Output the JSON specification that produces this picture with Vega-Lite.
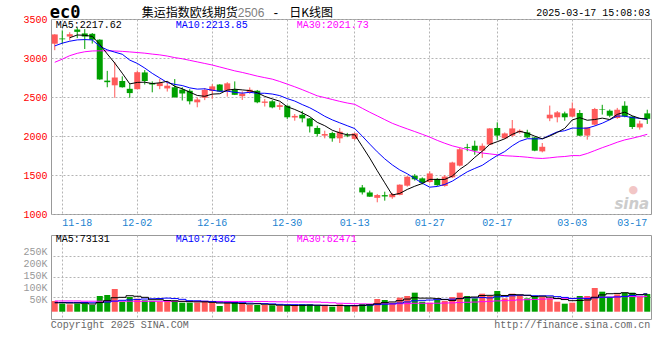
{
  "$schema": "https://vega.github.io/schema/vega-lite/v6.json",
  "background": "#ffffff",
  "padding": {"left": 22, "top": 3, "right": 9, "bottom": 0},
  "config": {
    "view": {"stroke": "#999999", "strokeWidth": 1},
    "axis": {"labelFont": "Liberation Mono", "labelFontSize": 10, "ticks": false, "domain": false, "gridColor": "#b4b4b4", "gridDash": [2, 2], "gridWidth": 1},
    "text": {"font": "Liberation Mono", "fontSize": 10}
  },
  "spacing": 21,
  "bounds": "flush",
  "data": {"values": [
    {"d":"11-15","o":3183,"h":3305,"l":3100,"c":3302,"v":44400,"m5":null,"m10":3155,"m30":2945,"vm5":37000,"vm10":38000,"vm30":44500},
    {"d":"11-18","o":3250,"h":3354,"l":3183,"c":3240,"v":33300,"m5":null,"m10":3190,"m30":2985,"vm5":37000,"vm10":38000,"vm30":44500},
    {"d":"11-19","o":3275,"h":3330,"l":3225,"c":3305,"v":30600,"m5":3260,"m10":3215,"m30":3030,"vm5":36000,"vm10":38000,"vm30":44500},
    {"d":"11-20","o":3365,"h":3390,"l":3255,"c":3335,"v":33300,"m5":3295,"m10":3232,"m30":3060,"vm5":36000,"vm10":38000,"vm30":44500},
    {"d":"11-21","o":3315,"h":3370,"l":3115,"c":3275,"v":33300,"m5":3291,"m10":3236,"m30":3080,"vm5":35000,"vm10":38000,"vm30":43500},
    {"d":"11-22","o":3310,"h":3320,"l":3185,"c":3235,"v":27800,"m5":3278,"m10":3232,"m30":3090,"vm5":31700,"vm10":37000,"vm30":43500},
    {"d":"11-25","o":3235,"h":3240,"l":2720,"c":2725,"v":65200,"m5":3175,"m10":3150,"m30":3092,"vm5":38000,"vm10":38000,"vm30":43500},
    {"d":"11-26","o":2710,"h":2835,"l":2625,"c":2690,"v":69300,"m5":3052,"m10":3105,"m30":3092,"vm5":45800,"vm10":40000,"vm30":43500},
    {"d":"11-27","o":2650,"h":2950,"l":2490,"c":2750,"v":94200,"m5":2935,"m10":3075,"m30":3090,"vm5":58000,"vm10":44000,"vm30":43500},
    {"d":"11-28","o":2705,"h":2765,"l":2620,"c":2625,"v":41500,"m5":2805,"m10":3048,"m30":3085,"vm5":59600,"vm10":47300,"vm30":43500},
    {"d":"11-29","o":2605,"h":2665,"l":2490,"c":2550,"v":61000,"m5":2668,"m10":2973,"m30":3078,"vm5":66200,"vm10":49000,"vm30":43500},
    {"d":"12-02","o":2600,"h":2840,"l":2598,"c":2818,"v":54000,"m5":2687,"m10":2931,"m30":3070,"vm5":64000,"vm10":51000,"vm30":43000},
    {"d":"12-03","o":2815,"h":2845,"l":2660,"c":2705,"v":47200,"m5":2690,"m10":2871,"m30":3062,"vm5":59600,"vm10":52700,"vm30":43000},
    {"d":"12-04","o":2680,"h":2700,"l":2560,"c":2660,"v":44400,"m5":2672,"m10":2803,"m30":3050,"vm5":49600,"vm10":53800,"vm30":43000},
    {"d":"12-05","o":2640,"h":2730,"l":2600,"c":2678,"v":41500,"m5":2682,"m10":2744,"m30":3040,"vm5":49600,"vm10":54600,"vm30":43000},
    {"d":"12-06","o":2610,"h":2690,"l":2570,"c":2645,"v":44400,"m5":2701,"m10":2685,"m30":3025,"vm5":46300,"vm10":56300,"vm30":43000},
    {"d":"12-09","o":2625,"h":2730,"l":2495,"c":2495,"v":47200,"m5":2637,"m10":2662,"m30":3005,"vm5":44900,"vm10":54500,"vm30":43000},
    {"d":"12-10","o":2595,"h":2625,"l":2455,"c":2545,"v":37400,"m5":2605,"m10":2647,"m30":2990,"vm5":43000,"vm10":51300,"vm30":43000},
    {"d":"12-11","o":2580,"h":2600,"l":2405,"c":2445,"v":37400,"m5":2562,"m10":2617,"m30":2970,"vm5":41600,"vm10":45600,"vm30":43000},
    {"d":"12-12","o":2432,"h":2495,"l":2368,"c":2468,"v":37400,"m5":2520,"m10":2601,"m30":2950,"vm5":40800,"vm10":45200,"vm30":43000},
    {"d":"12-13","o":2490,"h":2615,"l":2460,"c":2590,"v":44400,"m5":2509,"m10":2605,"m30":2930,"vm5":40800,"vm10":43500,"vm30":43000},
    {"d":"12-16","o":2578,"h":2665,"l":2475,"c":2636,"v":37400,"m5":2537,"m10":2587,"m30":2910,"vm5":38800,"vm10":41900,"vm30":42500},
    {"d":"12-17","o":2660,"h":2665,"l":2565,"c":2570,"v":23700,"m5":2542,"m10":2573,"m30":2885,"vm5":36100,"vm10":39500,"vm30":42500},
    {"d":"12-18","o":2582,"h":2690,"l":2505,"c":2675,"v":36100,"m5":2588,"m10":2575,"m30":2860,"vm5":35800,"vm10":38700,"vm30":42500},
    {"d":"12-19","o":2598,"h":2700,"l":2525,"c":2528,"v":36100,"m5":2600,"m10":2560,"m30":2835,"vm5":35500,"vm10":38200,"vm30":42500},
    {"d":"12-20","o":2510,"h":2572,"l":2462,"c":2545,"v":36100,"m5":2591,"m10":2550,"m30":2815,"vm5":33900,"vm10":37300,"vm30":42500},
    {"d":"12-23","o":2560,"h":2623,"l":2540,"c":2593,"v":27800,"m5":2582,"m10":2560,"m30":2792,"vm5":32000,"vm10":35400,"vm30":42500},
    {"d":"12-24","o":2580,"h":2590,"l":2420,"c":2432,"v":27800,"m5":2555,"m10":2548,"m30":2768,"vm5":32800,"vm10":34400,"vm30":42500},
    {"d":"12-25","o":2425,"h":2475,"l":2378,"c":2442,"v":27800,"m5":2508,"m10":2548,"m30":2748,"vm5":31100,"vm10":33500,"vm30":42500},
    {"d":"12-26","o":2445,"h":2460,"l":2355,"c":2367,"v":26500,"m5":2476,"m10":2538,"m30":2729,"vm5":29200,"vm10":32400,"vm30":41600},
    {"d":"12-27","o":2373,"h":2430,"l":2335,"c":2395,"v":25000,"m5":2446,"m10":2518,"m30":2699,"vm5":27000,"vm10":30400,"vm30":41000},
    {"d":"12-30","o":2388,"h":2390,"l":2218,"c":2240,"v":25000,"m5":2375,"m10":2479,"m30":2665,"vm5":26400,"vm10":29200,"vm30":40700},
    {"d":"12-31","o":2237,"h":2282,"l":2196,"c":2258,"v":23700,"m5":2340,"m10":2448,"m30":2631,"vm5":25600,"vm10":29200,"vm30":40500},
    {"d":"01-02","o":2272,"h":2322,"l":2175,"c":2226,"v":30600,"m5":2297,"m10":2403,"m30":2594,"vm5":26200,"vm10":28600,"vm30":40400},
    {"d":"01-03","o":2225,"h":2230,"l":2045,"c":2123,"v":30600,"m5":2248,"m10":2362,"m30":2555,"vm5":27000,"vm10":28100,"vm30":40300},
    {"d":"01-06","o":2103,"h":2132,"l":1995,"c":2026,"v":23700,"m5":2175,"m10":2310,"m30":2515,"vm5":26700,"vm10":26900,"vm30":40100},
    {"d":"01-07","o":2005,"h":2068,"l":1970,"c":2025,"v":23700,"m5":2132,"m10":2253,"m30":2492,"vm5":26500,"vm10":26400,"vm30":38800},
    {"d":"01-08","o":2038,"h":2055,"l":1927,"c":1970,"v":20900,"m5":2074,"m10":2207,"m30":2468,"vm5":25900,"vm10":25800,"vm30":37200},
    {"d":"01-09","o":1970,"h":2103,"l":1910,"c":2055,"v":30600,"m5":2040,"m10":2169,"m30":2444,"vm5":25900,"vm10":26000,"vm30":35000},
    {"d":"01-10","o":2008,"h":2040,"l":1985,"c":1998,"v":23700,"m5":2015,"m10":2132,"m30":2423,"vm5":24500,"vm10":25800,"vm30":34400},
    {"d":"01-13","o":1963,"h":2040,"l":1950,"c":2033,"v":23700,"m5":2016,"m10":2095,"m30":2406,"vm5":24500,"vm10":25600,"vm30":33200},
    {"d":"01-14","o":1340,"h":1372,"l":1250,"c":1277,"v":32000,"m5":1867,"m10":1999,"m30":2355,"vm5":26200,"vm10":26300,"vm30":32500},
    {"d":"01-15","o":1276,"h":1300,"l":1220,"c":1222,"v":32000,"m5":1717,"m10":1896,"m30":2305,"vm5":28400,"vm10":27200,"vm30":32000},
    {"d":"01-16","o":1207,"h":1257,"l":1150,"c":1243,"v":52700,"m5":1555,"m10":1797,"m30":2258,"vm5":32800,"vm10":29400,"vm30":32200},
    {"d":"01-17","o":1242,"h":1286,"l":1171,"c":1225,"v":48600,"m5":1400,"m10":1707,"m30":2210,"vm5":37800,"vm10":31200,"vm30":32500},
    {"d":"01-20","o":1215,"h":1270,"l":1195,"c":1255,"v":37400,"m5":1244,"m10":1630,"m30":2163,"vm5":40500,"vm10":32500,"vm30":32200},
    {"d":"01-21","o":1245,"h":1380,"l":1240,"c":1376,"v":58300,"m5":1264,"m10":1565,"m30":2126,"vm5":45800,"vm10":36000,"vm30":32600},
    {"d":"01-22","o":1363,"h":1490,"l":1350,"c":1478,"v":65200,"m5":1315,"m10":1516,"m30":2091,"vm5":52400,"vm10":40400,"vm30":33500},
    {"d":"01-23","o":1490,"h":1512,"l":1428,"c":1445,"v":79000,"m5":1356,"m10":1455,"m30":2057,"vm5":57700,"vm10":45300,"vm30":34900},
    {"d":"01-24","o":1457,"h":1470,"l":1380,"c":1400,"v":41500,"m5":1391,"m10":1395,"m30":2022,"vm5":56300,"vm10":47000,"vm30":35100},
    {"d":"01-27","o":1410,"h":1547,"l":1400,"c":1520,"v":37400,"m5":1444,"m10":1344,"m30":1986,"vm5":56300,"vm10":48400,"vm30":34800},
    {"d":"02-05","o":1450,"h":1460,"l":1360,"c":1370,"v":48600,"m5":1443,"m10":1353,"m30":1944,"vm5":54300,"vm10":50100,"vm30":35200},
    {"d":"02-06","o":1360,"h":1500,"l":1350,"c":1480,"v":44400,"m5":1443,"m10":1379,"m30":1907,"vm5":50200,"vm10":51300,"vm30":35900},
    {"d":"02-07","o":1470,"h":1670,"l":1460,"c":1660,"v":61000,"m5":1486,"m10":1421,"m30":1874,"vm5":46600,"vm10":52100,"vm30":36700},
    {"d":"02-10","o":1620,"h":1850,"l":1610,"c":1830,"v":79000,"m5":1572,"m10":1481,"m30":1850,"vm5":54100,"vm10":55200,"vm30":38100},
    {"d":"02-11","o":1858,"h":1900,"l":1805,"c":1848,"v":65200,"m5":1638,"m10":1541,"m30":1827,"vm5":59600,"vm10":58000,"vm30":39100},
    {"d":"02-12","o":1875,"h":1940,"l":1760,"c":1812,"v":55400,"m5":1726,"m10":1584,"m30":1801,"vm5":61000,"vm10":57700,"vm30":40000},
    {"d":"02-13","o":1812,"h":1905,"l":1720,"c":1875,"v":74800,"m5":1805,"m10":1624,"m30":1782,"vm5":67100,"vm10":58600,"vm30":41600},
    {"d":"02-14","o":1890,"h":2100,"l":1885,"c":2097,"v":65200,"m5":1892,"m10":1689,"m30":1771,"vm5":67900,"vm10":57300,"vm30":42800},
    {"d":"02-17","o":2103,"h":2175,"l":1950,"c":2005,"v":85800,"m5":1927,"m10":1750,"m30":1759,"vm5":69300,"vm10":61700,"vm30":44800},
    {"d":"02-18","o":1970,"h":2045,"l":1960,"c":2033,"v":55400,"m5":1964,"m10":1801,"m30":1747,"vm5":67300,"vm10":63500,"vm30":45800},
    {"d":"02-19","o":2005,"h":2205,"l":1985,"c":2097,"v":74800,"m5":2021,"m10":1874,"m30":1742,"vm5":71200,"vm10":66100,"vm30":47500},
    {"d":"02-20","o":2048,"h":2085,"l":2030,"c":2068,"v":69300,"m5":2060,"m10":1933,"m30":1736,"vm5":70100,"vm10":68600,"vm30":49000},
    {"d":"02-21","o":2046,"h":2080,"l":1975,"c":1982,"v":55400,"m5":2037,"m10":1965,"m30":1728,"vm5":68100,"vm10":68000,"vm30":49800},
    {"d":"02-24","o":1982,"h":1990,"l":1805,"c":1812,"v":61000,"m5":1998,"m10":1963,"m30":1717,"vm5":63200,"vm10":66200,"vm30":50900},
    {"d":"02-25","o":1803,"h":1910,"l":1790,"c":1862,"v":61000,"m5":1964,"m10":1964,"m30":1712,"vm5":64300,"vm10":65800,"vm30":52100},
    {"d":"02-26","o":2226,"h":2390,"l":2190,"c":2273,"v":55400,"m5":1999,"m10":2010,"m30":1720,"vm5":60400,"vm10":65800,"vm30":53200},
    {"d":"02-27","o":2240,"h":2320,"l":2175,"c":2303,"v":41500,"m5":2046,"m10":2053,"m30":1731,"vm5":54900,"vm10":62500,"vm30":53800},
    {"d":"02-28","o":2290,"h":2312,"l":2196,"c":2240,"v":33300,"m5":2098,"m10":2068,"m30":1737,"vm5":50400,"vm10":59300,"vm30":53900},
    {"d":"03-03","o":2248,"h":2430,"l":2240,"c":2354,"v":37400,"m5":2206,"m10":2102,"m30":1749,"vm5":45700,"vm10":54500,"vm30":54400},
    {"d":"03-04","o":2295,"h":2333,"l":2000,"c":2004,"v":65200,"m5":2235,"m10":2100,"m30":1748,"vm5":46600,"vm10":55400,"vm30":55800},
    {"d":"03-05","o":2005,"h":2115,"l":1953,"c":2110,"v":65200,"m5":2202,"m10":2101,"m30":1776,"vm5":48500,"vm10":54500,"vm30":56900},
    {"d":"03-06","o":2145,"h":2360,"l":2135,"c":2346,"v":98300,"m5":2211,"m10":2129,"m30":1813,"vm5":59900,"vm10":57400,"vm30":59100},
    {"d":"03-07","o":2340,"h":2400,"l":2275,"c":2333,"v":83100,"m5":2229,"m10":2164,"m30":1850,"vm5":69800,"vm10":60100,"vm30":60100},
    {"d":"03-10","o":2324,"h":2340,"l":2240,"c":2260,"v":61000,"m5":2211,"m10":2209,"m30":1884,"vm5":74600,"vm10":60100,"vm30":60500},
    {"d":"03-11","o":2231,"h":2360,"l":2220,"c":2337,"v":72000,"m5":2277,"m10":2256,"m30":1920,"vm5":75900,"vm10":61200,"vm30":61700},
    {"d":"03-12","o":2388,"h":2445,"l":2240,"c":2252,"v":79000,"m5":2306,"m10":2254,"m30":1950,"vm5":78700,"vm10":63600,"vm30":62400},
    {"d":"03-13","o":2250,"h":2255,"l":2090,"c":2115,"v":79000,"m5":2259,"m10":2235,"m30":1971,"vm5":74800,"vm10":67400,"vm30":62800},
    {"d":"03-14","o":2110,"h":2196,"l":2082,"c":2160,"v":62400,"m5":2225,"m10":2227,"m30":1995,"vm5":70700,"vm10":70300,"vm30":62300},
    {"d":"03-17","o":2290,"h":2337,"l":2155,"c":2220,"v":73400,"m5":2217,"m10":2214,"m30":2022,"vm5":73200,"vm10":73900,"vm30":63300}
  ]},
  "vconcat": [
    {
      "width": 600,
      "height": 195,
      "encoding": {
        "x": {"field": "d", "type": "ordinal", "sort": null, "scale": {"paddingInner": 0, "paddingOuter": 0},
          "axis": {"title": null, "values": ["11-18","12-02","12-16","12-30","01-13","01-27","02-17","03-03","03-17"], "labelAngle": 0, "labelColor": "#1a82d0", "labelPadding": 3, "grid": true, "gridOpacity": {"condition": {"test": "datum.value === '03-17'", "value": 0}, "value": 1}, "labelFlush": 8, "labelFlushOffset": 0}}
      },
      "layer": [
        {"mark": {"type": "rule", "strokeWidth": 1},
         "encoding": {
           "y": {"field": "l", "type": "quantitative", "scale": {"domain": [1000, 3500], "nice": false, "zero": false},
             "axis": {"title": null, "values": [1000, 1500, 2000, 2500, 3000, 3500], "format": "d", "labelColor": "#ff0000", "labelPadding": 4, "labelFlush": false, "labelOverlap": false, "minExtent": 28, "maxExtent": 28, "grid": true}},
           "y2": {"field": "h"},
           "color": {"condition": {"test": "datum.c >= datum.o", "value": "#ff5a5a"}, "value": "#00a000"}}},
        {"mark": {"type": "bar", "size": 6},
         "encoding": {
           "y": {"field": "o", "type": "quantitative", "axis": null},
           "y2": {"field": "c"},
           "color": {"condition": {"test": "datum.c >= datum.o", "value": "#ff5a5a"}, "value": "#00a000"}}},
        {"mark": {"type": "line", "color": "#ff00ff", "strokeWidth": 1}, "encoding": {"y": {"field": "m30", "type": "quantitative", "axis": null}}},
        {"mark": {"type": "line", "color": "#0000ff", "strokeWidth": 1}, "encoding": {"y": {"field": "m10", "type": "quantitative", "axis": null}}},
        {"mark": {"type": "line", "color": "#000000", "strokeWidth": 1}, "encoding": {"y": {"field": "m5", "type": "quantitative", "axis": null}}},
        {"transform": [{"filter": "datum.d === '11-15'"}],
         "mark": {"type": "text", "align": "left", "baseline": "middle", "dx": 1, "dy": 6, "color": "#000000"},
         "encoding": {"y": {"datum": 3500, "axis": null}, "text": {"value": "MA5:2217.62"}}},
        {"transform": [{"filter": "datum.d === '12-09'"}],
         "mark": {"type": "text", "align": "left", "baseline": "middle", "dx": 1, "dy": 6, "color": "#0000ff"},
         "encoding": {"y": {"datum": 3500, "axis": null}, "text": {"value": "MA10:2213.85"}}},
        {"transform": [{"filter": "datum.d === '12-31'"}],
         "mark": {"type": "text", "align": "left", "baseline": "middle", "dx": 2, "dy": 6, "color": "#ff00ff"},
         "encoding": {"y": {"datum": 3500, "axis": null}, "text": {"value": "MA30:2021.73"}}},
        {"transform": [{"filter": "datum.d === '11-15'"}],
         "mark": {"type": "text", "align": "left", "baseline": "middle", "dx": -5, "dy": -6, "color": "#000000", "font": "DejaVu Sans Mono", "fontSize": 17, "fontWeight": "bold"},
         "encoding": {"y": {"datum": 3500, "axis": null}, "text": {"value": "ec0"}}},
        {"transform": [{"filter": "datum.d === '12-03'"}],
         "mark": {"type": "text", "align": "left", "baseline": "middle", "dx": -3, "dy": -6, "color": "#000000", "font": "Noto Sans CJK SC", "fontSize": 12},
         "encoding": {"y": {"datum": 3500, "axis": null}, "text": {"value": "集运指数欧线期货"}}},
        {"transform": [{"filter": "datum.d === '12-19'"}],
         "mark": {"type": "text", "align": "left", "baseline": "middle", "dx": 3, "dy": -6, "color": "#808080", "font": "Liberation Sans", "fontSize": 12},
         "encoding": {"y": {"datum": 3500, "axis": null}, "text": {"value": "2506"}}},
        {"transform": [{"filter": "datum.d === '12-26'"}],
         "mark": {"type": "text", "align": "left", "baseline": "middle", "dx": 0, "dy": -6, "color": "#000000", "font": "Liberation Mono", "fontSize": 12},
         "encoding": {"y": {"datum": 3500, "axis": null}, "text": {"value": "-"}}},
        {"transform": [{"filter": "datum.d === '12-30'"}],
         "mark": {"type": "text", "align": "left", "baseline": "middle", "dx": 2, "dy": -6, "color": "#000000", "font": "Noto Sans CJK SC", "fontSize": 12},
         "encoding": {"y": {"datum": 3500, "axis": null}, "text": {"value": "日K线图"}}},
        {"transform": [{"filter": "datum.d === '03-17'"}],
         "mark": {"type": "text", "align": "right", "baseline": "middle", "dx": 3, "dy": -6, "color": "#000000"},
         "encoding": {"y": {"datum": 3500, "axis": null}, "text": {"value": "2025-03-17 15:08:03"}}},
        {"transform": [{"filter": "datum.d === '03-17'"}],
         "mark": {"type": "text", "align": "center", "baseline": "middle", "dx": -14, "dy": -14, "color": "#f2c6c6", "font": "DejaVu Sans", "fontSize": 11},
         "encoding": {"y": {"datum": 1130, "axis": null}, "text": {"value": "●"}}},
        {"transform": [{"filter": "datum.d === '03-17'"}],
         "mark": {"type": "text", "align": "right", "baseline": "middle", "dx": 2, "color": "#cccccc", "font": "DejaVu Sans", "fontSize": 15, "fontWeight": "bold", "fontStyle": "italic"},
         "encoding": {"y": {"datum": 1130, "axis": null}, "text": {"value": "sina"}}}
      ],
      "resolve": {"axis": {"y": "independent"}}
    },
    {
      "width": 600,
      "height": 84,
      "encoding": {
        "x": {"field": "d", "type": "ordinal", "sort": null, "scale": {"paddingInner": 0, "paddingOuter": 0},
          "axis": {"title": null, "values": ["11-18","12-02","12-16","12-30","01-13","01-27","02-17","03-03"], "labels": false, "grid": true}}
      },
      "layer": [
        {"mark": {"type": "bar", "size": 6},
         "encoding": {
           "y": {"field": "v", "type": "quantitative", "scale": {"domain": [-30300, 318300], "nice": false, "zero": false},
             "axis": {"title": null, "values": [50000, 100000, 150000, 200000, 250000], "labelExpr": "(datum.value / 1000) + 'K'", "labelColor": "#999999", "labelPadding": 4, "labelFlush": false, "labelOverlap": false, "minExtent": 28, "maxExtent": 28, "grid": false}},
           "y2": {"datum": 0},
           "color": {"condition": {"test": "datum.c >= datum.o", "value": "#ff5a5a"}, "value": "#00a000"}}},
        {"mark": {"type": "line", "color": "#ff00ff", "strokeWidth": 1, "interpolate": "step"},
         "encoding": {"y": {"field": "vm30", "type": "quantitative",
           "axis": {"title": null, "orient": "right", "values": [61000, 145000, 231000], "labels": false, "grid": true, "minExtent": 0, "maxExtent": 0}}}},
        {"mark": {"type": "line", "color": "#0000ff", "strokeWidth": 1, "interpolate": "step"},
         "encoding": {"y": {"field": "vm10", "type": "quantitative", "axis": null}}},
        {"mark": {"type": "line", "color": "#000000", "strokeWidth": 1, "interpolate": "step"},
         "encoding": {"y": {"field": "vm5", "type": "quantitative", "axis": null}}},
        {"transform": [{"filter": "datum.d === '11-15'"}],
         "mark": {"type": "text", "align": "left", "baseline": "middle", "dx": 1, "dy": 4, "color": "#000000"},
         "encoding": {"y": {"datum": 318300, "axis": null}, "text": {"value": "MA5:73131"}}},
        {"transform": [{"filter": "datum.d === '12-09'"}],
         "mark": {"type": "text", "align": "left", "baseline": "middle", "dx": 1, "dy": 4, "color": "#0000ff"},
         "encoding": {"y": {"datum": 318300, "axis": null}, "text": {"value": "MA10:74362"}}},
        {"transform": [{"filter": "datum.d === '12-31'"}],
         "mark": {"type": "text", "align": "left", "baseline": "middle", "dx": 2, "dy": 4, "color": "#ff00ff"},
         "encoding": {"y": {"datum": 318300, "axis": null}, "text": {"value": "MA30:62471"}}},
        {"transform": [{"filter": "datum.d === '11-15'"}],
         "mark": {"type": "text", "align": "left", "baseline": "middle", "dx": -4, "dy": 6, "color": "#666666"},
         "encoding": {"y": {"datum": -30300, "axis": null}, "text": {"value": "Copyright 2025 SINA.COM"}}},
        {"transform": [{"filter": "datum.d === '03-17'"}],
         "mark": {"type": "text", "align": "right", "baseline": "middle", "dx": 3, "dy": 6, "color": "#666666"},
         "encoding": {"y": {"datum": -30300, "axis": null}, "text": {"value": "http://finance.sina.com.cn"}}}
      ],
      "resolve": {"axis": {"y": "independent"}}
    }
  ]
}
